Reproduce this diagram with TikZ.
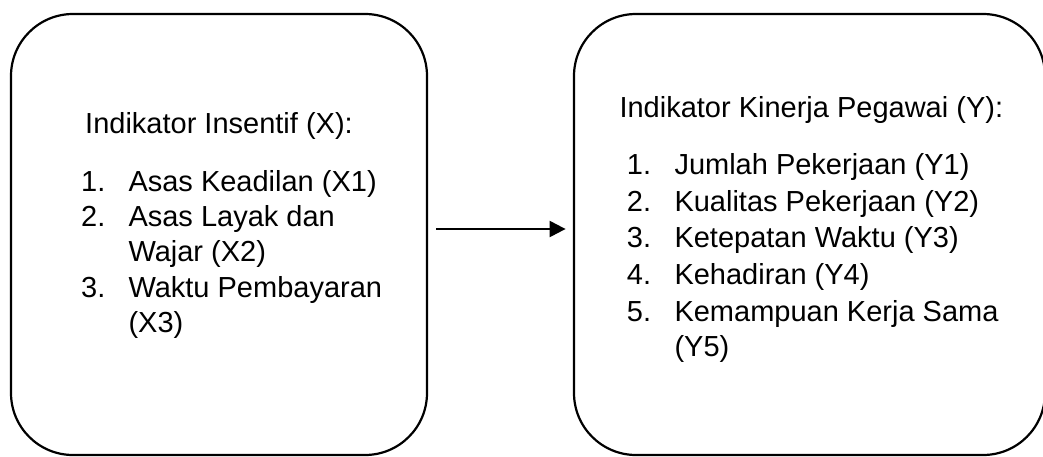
\documentclass[tikz,border=0pt]{standalone}
\usepackage{fontspec}
\setmainfont{Liberation Sans}
\usetikzlibrary{arrows.meta}
\begin{document}
\begin{tikzpicture}[x=1pt,y=-1pt,
  box/.style={draw,line width=2.2pt,rounded corners=62pt,inner sep=0pt},
  txt/.style={anchor=base west,inner sep=0pt,font=\fontsize{29}{35}\selectfont},
  arr/.style={line width=2.2pt,-{Triangle[length=16pt,width=16pt]}}]
\useasboundingbox (0,0) rectangle (1043,456);
\fill[white] (0,0) rectangle (1043,456);
% boxes
\node[box,minimum width=416pt,minimum height=441pt] (L) at (219,234.5) {};
\node[box,minimum width=471pt,minimum height=441pt] (R) at (809.5,234.5) {};
% left text
\node[txt] (lh) at (85,133) {Indikator Insentif (X):};
\node[txt] (ln1) at (81,191.5) {1.};
\node[txt] (lt1) at (128.3,191.5) {Asas Keadilan (X1)};
\node[txt] (ln2) at (81,226.5) {2.};
\node[txt] (lt2) at (128.3,226.5) {Asas Layak dan};
\node[txt] (lt2b) at (128.3,261.5) {Wajar (X2)};
\node[txt] (ln3) at (81,297.5) {3.};
\node[txt] (lt3) at (128.3,297.5) {Waktu Pembayaran};
\node[txt] (lt3b) at (128.3,332.5) {(X3)};
% right text
\node[txt] (rh) at (619.3,117.3) {Indikator Kinerja Pegawai (Y):};
\node[txt] (rn1) at (626.7,174.3) {1.};
\node[txt] (rt1) at (674.3,174.3) {Jumlah Pekerjaan (Y1)};
\node[txt] (rn2) at (626.7,211) {2.};
\node[txt] (rt2) at (674.3,211) {Kualitas Pekerjaan (Y2)};
\node[txt] (rn3) at (626.7,247.7) {3.};
\node[txt] (rt3) at (674.3,247.7) {Ketepatan Waktu (Y3)};
\node[txt] (rn4) at (626.7,284.3) {4.};
\node[txt] (rt4) at (674.3,284.3) {Kehadiran (Y4)};
\node[txt] (rn5) at (626.7,321) {5.};
\node[txt] (rt5) at (674.3,321) {Kemampuan Kerja Sama};
\node[txt] (rt5b) at (674.3,356) {(Y5)};
% arrow
\draw[arr] ([xshift=8pt,yshift=5.5pt]L.east) -- ([xshift=-7.3pt,yshift=5.5pt]R.west);
\end{tikzpicture}
\end{document}
